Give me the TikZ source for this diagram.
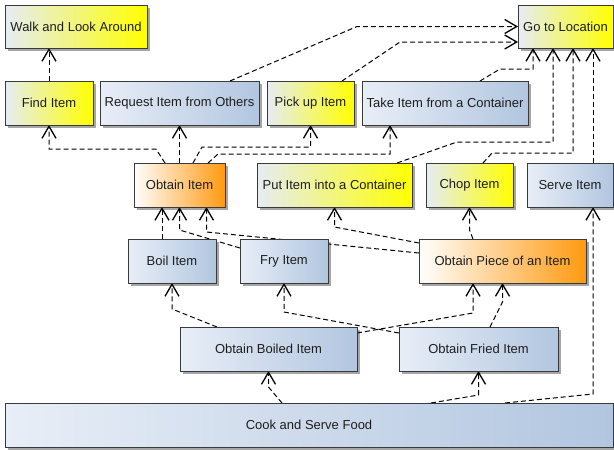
\documentclass[tikz,border=0pt]{standalone}
\usepackage{fontspec}
\setmainfont{Liberation Sans}
\usetikzlibrary{arrows.meta,shadows,backgrounds}
\definecolor{yelR}{HTML}{FFFF00}
\definecolor{yelL}{HTML}{E6ECF4}
\definecolor{bluL}{HTML}{E8EEF7}
\definecolor{bluR}{HTML}{B2C6E0}
\definecolor{orgL}{HTML}{FFFFFF}
\definecolor{orgR}{HTML}{FF9A10}
\definecolor{edgec}{HTML}{3A3A3A}
\definecolor{txt}{HTML}{1E1E1E}
\tikzset{
  box/.style={rectangle, draw=edgec, line width=0.8pt, inner sep=0pt, outer sep=0pt,
    minimum height=44pt, text=txt, font=\fontsize{13pt}{15pt}\selectfont,
    drop shadow={shadow xshift=2.5pt, shadow yshift=-2.5pt, opacity=0.35, fill=black}},
  ybox/.style={box, left color=yelL, right color=yelR},
  bbox/.style={box, left color=bluL, right color=bluR},
  obox/.style={box, left color=orgL, right color=orgR},
  conn/.style={draw=black, line width=1pt, dash pattern=on 5pt off 3pt,
    -{Straight Barb[length=12pt,width=14pt,line width=1.3pt]}},
}
\begin{document}
\begin{tikzpicture}[x=1pt,y=-1pt]
\useasboundingbox (0,0) rectangle (614,450);
% row 1
\node[ybox, minimum width=142pt, minimum height=43pt] (walk) at (76,26.5) {Walk and Look Around};
\node[ybox, minimum width=95pt, minimum height=43pt] (goto) at (565.5,26.5) {Go to Location};
% row 2
\node[ybox, minimum width=88pt] (find) at (49,103) {Find Item};
\node[bbox, minimum width=159pt] (request) at (179.5,103) {Request Item from Others};
\node[ybox, minimum width=87pt] (pickup) at (310.5,103) {Pick up Item};
\node[bbox, minimum width=166pt] (take) at (445,103) {Take Item from a Container};
% row 3
\node[obox, minimum width=91pt] (obtain) at (179.5,185) {Obtain Item};
\node[ybox, minimum width=155pt] (put) at (334.5,185) {Put Item into a Container};
\node[ybox, minimum width=87pt] (chop) at (469.5,185) {Chop Item};
\node[bbox, minimum width=86pt] (serve) at (570,185) {Serve Item};
% row 4
\node[bbox, minimum width=88pt] (boil) at (172,261) {Boil Item};
\node[bbox, minimum width=88pt] (fry) at (284,261) {Fry Item};
\node[obox, minimum width=167pt] (piece) at (502.5,261) {Obtain Piece of an Item};
% row 5
\node[bbox, minimum width=177pt] (oboiled) at (268.5,349) {Obtain Boiled Item};
\node[bbox, minimum width=159pt] (ofried) at (478.5,349) {Obtain Fried Item};
% row 6
\node[bbox, minimum width=608pt] (cook) at (309,425) {Cook and Serve Food};

\begin{scope}[on background layer]
\draw[conn] (find.north) -- (walk.south -| find.north);
\draw[conn] ([xshift=-14.5pt]obtain.north) -- (156,149) -- (49,149) -- (find.south);
\draw[conn] (obtain.north) -- (request.south);
\draw[conn] ([xshift=13.5pt]obtain.north) -- (202,147) -- (310.5,147) -- (pickup.south);
\draw[conn] ([xshift=28.5pt]obtain.north) -- (218,154) -- (390,154) -- ([xshift=-55pt]take.south);
\draw[conn] ([xshift=50.5pt]request.north) -- (357,26.5) -- (goto.west);
\draw[conn] ([xshift=31.5pt]pickup.north) -- (400,42) -- ([yshift=-15.5pt]goto.west);
\draw[conn] ([xshift=35pt]take.north) -- (500,69) -- (533,69) -- ([xshift=-32.5pt]goto.south);
\draw[conn] ([xshift=62.5pt]put.north) -- (457,142) -- (553,142) -- ([xshift=-12.5pt]goto.south);
\draw[conn] ([xshift=13.5pt]chop.north) -- (492,153) -- (573,153) -- ([xshift=7.5pt]goto.south);
\draw[conn] ([xshift=23pt]serve.north) -- ([xshift=27.5pt]goto.south);
\draw[conn] ([xshift=-10pt]boil.north) -- ([xshift=-17.5pt]obtain.south);
\draw[conn] ([yshift=-9pt]fry.north west) -- (179.5,230) -- (obtain.south);
\draw[conn] ([yshift=-14pt]piece.north west) -- (206.5,232) -- ([xshift=27pt]obtain.south);
\draw[conn] ([yshift=-4pt]piece.north west) -- (334.5,227) -- (put.south);
\draw[conn] ([xshift=-29.5pt]piece.north) -- (469.5,230) -- (chop.south);
\draw[conn] ([xshift=-51.5pt]oboiled.north) -- (172,309) -- (boil.south);
\draw[conn] ([yshift=-6pt]oboiled.north east) -- (473,313) -- ([xshift=-29.5pt]piece.south);
\draw[conn] ([yshift=-6pt]ofried.north west) -- (284,312) -- (fry.south);
\draw[conn] ([xshift=11.5pt]ofried.north) -- (502.5,302) -- (piece.south);
\draw[conn] ([xshift=-27pt]cook.north) -- (268.5,387) -- (oboiled.south);
\draw[conn] ([xshift=122pt]cook.north) -- (478.5,395) -- (ofried.south);
\draw[conn] ([xshift=196pt]cook.north) -- (593,394) -- ([xshift=23pt]serve.south);
\end{scope}
\end{tikzpicture}
\end{document}
